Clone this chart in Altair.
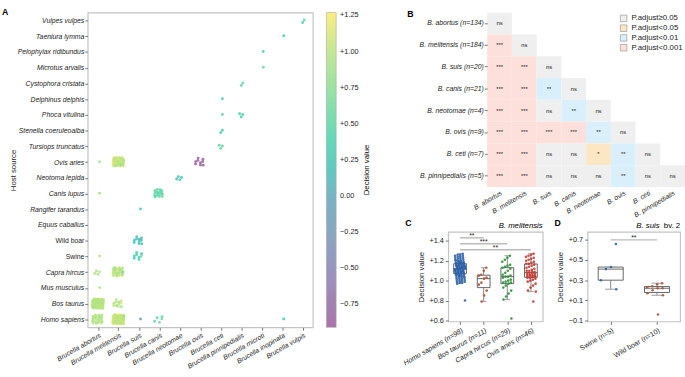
import json
import altair as alt
import numpy as np
import pandas as pd

FONT = "Liberation Sans"

# ---------------- Panel A data ----------------
hosts = ["Homo sapiens", "Bos taurus", "Mus musculus", "Capra hircus", "Swine", "Wild boar",
         "Equus caballus", "Rangifer tarandus", "Canis lupus", "Neotoma lepida", "Ovis aries",
         "Tursiops truncatus", "Stenella coeruleoalba", "Phoca vitulina", "Delphinus delphis",
         "Cystophora cristata", "Microtus arvalis", "Pelophylax ridibundus", "Taeniura lymma",
         "Vulpes vulpes"]
species_a = ["Brucella abortus", "Brucella melitensis", "Brucella suis", "Brucella canis",
             "Brucella neotomae", "Brucella ovis", "Brucella ceti", "Brucella pinnipedialis",
             "Brucella microti", "Brucella inopinata", "Brucella vulpis"]

# B. melitensis decision values per host (also panel C)
mel_homo = [1.27, 1.26, 1.26, 1.25, 1.25, 1.24, 1.24, 1.23, 1.23, 1.22,
            1.22, 1.21, 1.21, 1.20, 1.20, 1.20, 1.19, 1.19, 1.19, 1.18,
            1.18, 1.18, 1.18, 1.17, 1.17, 1.17, 1.17, 1.16, 1.16, 1.16,
            1.16, 1.15, 1.15, 1.15, 1.15, 1.15, 1.14, 1.14, 1.14, 1.14,
            1.14, 1.13, 1.13, 1.13, 1.13, 1.13, 1.13, 1.12, 1.12, 1.12,
            1.12, 1.12, 1.11, 1.11, 1.11, 1.11, 1.11, 1.10, 1.10, 1.10,
            1.10, 1.10, 1.09, 1.09, 1.09, 1.09, 1.08, 1.08, 1.08, 1.08,
            1.08, 1.07, 1.07, 1.07, 1.07, 1.06, 1.06, 1.06, 1.05, 1.05,
            1.05, 1.04, 1.04, 1.04, 1.03, 1.03, 1.02, 1.02, 1.01, 1.01,
            1.00, 1.00, 0.99, 0.99, 0.98, 0.98, 0.97, 0.80]
mel_bos = [1.13, 1.10, 1.06, 1.05, 1.03, 1.02, 0.98, 0.96, 0.90, 0.85, 0.79]
mel_capra = [1.25, 1.23, 1.21, 1.19, 1.16, 1.15, 1.14, 1.13, 1.12, 1.10,
             1.08, 1.06, 1.05, 1.04, 1.04, 1.03, 1.01, 1.00, 0.99, 0.98,
             0.98, 0.97, 0.95, 0.93, 0.90, 0.87, 0.84, 0.81, 0.62]
mel_ovis = [1.27, 1.26, 1.25, 1.24, 1.23, 1.22, 1.21, 1.20, 1.19, 1.18,
            1.17, 1.17, 1.16, 1.15, 1.14, 1.13, 1.12, 1.11, 1.10, 1.10,
            1.09, 1.09, 1.08, 1.08, 1.07, 1.07, 1.06, 1.06, 1.05, 1.05,
            1.05, 1.04, 1.04, 1.04, 1.03, 1.03, 1.02, 1.01, 1.00, 0.99,
            0.97, 0.95, 0.93, 0.90, 0.89, 0.79]
# B. suis bv. 2 (also panel D)
suis_swine = [0.66, 0.43, 0.41, 0.30, 0.21]
suis_boar = [0.27, 0.26, 0.24, 0.23, 0.22, 0.22, 0.20, 0.17, 0.15, -0.04]

ab_bos = [1.08, 1.07, 1.07, 1.06, 1.06, 1.06, 1.05, 1.05, 1.05, 1.05,
          1.04, 1.04, 1.04, 1.04, 1.04, 1.03, 1.03, 1.03, 1.03, 1.03,
          1.03, 1.02, 1.02, 1.02, 1.02, 1.02, 1.02, 1.02, 1.01, 1.01,
          1.01, 1.01, 1.01, 1.01, 1.01, 1.00, 1.00, 1.00, 1.00, 1.00,
          1.00, 1.00, 1.00, 0.99, 0.99, 0.99, 0.99, 0.99, 0.99, 0.99,
          0.99, 0.98, 0.98, 0.98, 0.98, 0.98, 0.98, 0.98, 0.97, 0.97,
          0.97, 0.97, 0.97, 0.97, 0.96, 0.96, 0.96, 0.96, 0.96, 0.95,
          0.95, 0.95, 0.95, 0.94, 0.94, 0.94, 0.93, 0.93, 0.92, 0.92,
          1.00, 1.01, 0.99, 1.02, 0.98, 1.03, 0.97, 1.00, 1.01, 0.99,
          1.02, 0.98, 1.00, 0.97, 1.04, 0.96, 1.00, 0.99, 1.01, 0.98]
ab_homo = [1.06, 1.04, 1.03, 1.02, 1.02, 1.01, 1.01, 1.00, 1.00, 1.00,
           0.99, 0.99, 0.99, 0.98, 0.98, 0.98, 0.97, 0.97, 0.96, 0.96,
           0.95, 0.95, 0.94, 0.93, 0.92, 0.90]

clusters = [
    ("Brucella abortus", "Bos taurus", ab_bos),
    ("Brucella abortus", "Homo sapiens", ab_homo),
    ("Brucella abortus", "Capra hircus", [1.02, 0.99, 0.97, 0.95]),
    ("Brucella abortus", "Ovis aries", [0.93]),
    ("Brucella abortus", "Canis lupus", [0.92]),
    ("Brucella abortus", "Mus musculus", [0.94]),
    ("Brucella abortus", "Swine", [0.93]),
    ("Brucella melitensis", "Homo sapiens", mel_homo),
    ("Brucella melitensis", "Bos taurus", mel_bos),
    ("Brucella melitensis", "Capra hircus", mel_capra),
    ("Brucella melitensis", "Ovis aries", mel_ovis),
    ("Brucella suis", "Swine", suis_swine + [0.35, 0.38, 0.42]),
    ("Brucella suis", "Wild boar", suis_boar),
    ("Brucella suis", "Rangifer tarandus", [0.30]),
    ("Brucella suis", "Homo sapiens", [-0.35]),
    ("Brucella canis", "Canis lupus", [0.62, 0.60, 0.58, 0.57, 0.56, 0.55, 0.54, 0.53,
                                       0.52, 0.51, 0.50, 0.49, 0.48, 0.46, 0.44, 0.40]),
    ("Brucella canis", "Homo sapiens", [0.62, 0.58, 0.55, 0.52, 0.48]),
    ("Brucella neotomae", "Neotoma lepida", [0.22, 0.20, 0.18, 0.16]),
    ("Brucella ovis", "Ovis aries", [-0.80, -0.83, -0.85, -0.86, -0.87, -0.88, -0.89, -0.90, -0.91]),
    ("Brucella ceti", "Delphinus delphis", [0.35]),
    ("Brucella ceti", "Phoca vitulina", [0.45]),
    ("Brucella ceti", "Stenella coeruleoalba", [0.38, 0.33]),
    ("Brucella ceti", "Tursiops truncatus", [0.55, 0.52, 0.50]),
    ("Brucella pinnipedialis", "Cystophora cristata", [0.55, 0.52]),
    ("Brucella pinnipedialis", "Phoca vitulina", [0.40, 0.36, 0.33]),
    ("Brucella microti", "Pelophylax ridibundus", [0.40]),
    ("Brucella microti", "Microtus arvalis", [0.55]),
    ("Brucella inopinata", "Taeniura lymma", [0.35]),
    ("Brucella inopinata", "Homo sapiens", [0.30]),
    ("Brucella vulpis", "Vulpes vulpes", [0.45, 0.42]),
]

# colour bar
cb_domain = [-0.91, -0.5, 0.0, 0.3, 0.75, 1.0, 1.27]
cb_colors = ["#9b5b9b", "#8885b5", "#60a8b9", "#37ceb5", "#8ade93", "#b8e482", "#fde96b"]
cb_ticks = [-0.75, -0.5, -0.25, 0.0, 0.25, 0.5, 0.75, 1.0, 1.25]

# ---------------- Panel B data ----------------
b_species = ["B. abortus", "B. melitensis", "B. suis", "B. canis", "B. neotomae",
             "B. ovis", "B. ceti", "B. pinnipedialis"]
b_n = [134, 184, 20, 21, 4, 9, 7, 5]
b_sig = [["ns"],
         ["***", "ns"],
         ["***", "***", "ns"],
         ["***", "***", "**", "ns"],
         ["***", "***", "ns", "**", "ns"],
         ["***", "***", "***", "***", "**", "ns"],
         ["***", "***", "ns", "ns", "*", "**", "ns"],
         ["***", "***", "ns", "ns", "ns", "**", "ns", "ns"]]
p_cats = ["P.adjust\u22650.05", "P.adjust<0.05", "P.adjust<0.01", "P.adjust<0.001"]
p_marks = ["ns", "*", "**", "***"]
p_colors = ["#efefef", "#fde6c4", "#d9effb", "#fde0db"]

# ---------------- Panel C / D data ----------------
c_groups = ["Homo sapiens (n=98)", "Bos taurus (n=11)", "Capra hircus (n=29)", "Ovis aries (n=46)"]
c_values = [mel_homo, mel_bos, mel_capra, mel_ovis]
c_colors = ["#2e63a6", "#a9553a", "#2f8f3c", "#c23b33"]
c_sig = [(0, 1, 1.43, "**"), (0, 2, 1.37, "***"), (0, 3, 1.31, "**")]

d_groups = ["Swine (n=5)", "Wild boar (n=10)"]
d_values = [suis_swine, suis_boar]
d_colors = ["#2e63a6", "#a9553a"]
d_sig = [(0, 1, 0.70, "**")]

A1, A2 = 0.7548776662, 0.5698402910


def frac_jit(k, a):
    return ((k * a) % 1.0) - 0.5


def label_chart(txt, x, y, **kw):
    return alt.Chart(pd.DataFrame({"t": [txt]})).mark_text(**kw).encode(
        text="t:N", x=alt.value(x), y=alt.value(y))


# ---------------- Build Panel A ----------------
rows = []
for sp, host, vals in clusters:
    n = len(vals)
    wx, wy = (0.28, 0.30) if n >= 20 else ((0.24, 0.26) if n >= 5 else (0.16, 0.18))
    for k, v in enumerate(vals, start=1):
        rows.append({"xj": species_a.index(sp) + 2 * wx * frac_jit(k, A1),
                     "yj": hosts.index(host) + 2 * wy * frac_jit(k, A2),
                     "val": v})
df_a = pd.DataFrame(rows)

A_W, A_H = 231, 323
pm_expr = "datum.value > 0.001 ? '+' + format(datum.value, '.2f') : format(datum.value, '.2f')"

pts_a = alt.Chart(df_a).mark_circle(size=9, opacity=0.85).encode(
    x=alt.X("xj:Q", scale=alt.Scale(domain=[-0.5, 10.5], nice=False, zero=False),
            axis=alt.Axis(values=list(range(11)), labelExpr=json.dumps(species_a) + "[datum.value]",
                          labelAngle=-30, labelAlign="right", labelBaseline="top",
                          labelFontStyle="italic", labelFontSize=7, title=None, grid=False,
                          domain=False, tickSize=3, labelPadding=1, labelOverlap=False,
                          labelBound=False)),
    y=alt.Y("yj:Q", scale=alt.Scale(domain=[-0.5, 19.5], nice=False, zero=False),
            axis=alt.Axis(values=list(range(20)), labelExpr=json.dumps(hosts) + "[datum.value]",
                          labelFontStyle={"condition": {"test": "datum.value == 4 || datum.value == 5",
                                                        "value": "normal"}, "value": "italic"},
                          labelFontSize=7, title="Host source", titleFontSize=8,
                          titleFontWeight="normal", grid=False, domain=False, tickSize=3,
                          labelPadding=1, titlePadding=0, labelOverlap=False)),
    color=alt.Color("val:Q",
                    scale=alt.Scale(domain=cb_domain, range=cb_colors, interpolate="rgb"),
                    legend=alt.Legend(title=None,
                                      gradientLength=A_H, gradientThickness=10,
                                      values=cb_ticks, labelExpr=pm_expr, offset=14,
                                      labelFontSize=7.5, labelOverlap=False,
                                      gradientStrokeColor="#999", gradientStrokeWidth=0.6,
                                      labelOffset=4, padding=0)),
)
letter_a = label_chart("A", -88, -5, fontWeight="bold", fontSize=9, align="left", baseline="top")
cb_title = label_chart("Decision value", A_W + 56, A_H / 2, angle=270, fontSize=8,
                       align="center", baseline="middle")
chart_a = alt.layer(pts_a, letter_a, cb_title).properties(width=A_W, height=A_H)

# ---------------- Build Panel B ----------------
B_GAP, B_CELLS_W = 40, 203
row_labels = [f"{s} (n={n})" for s, n in zip(b_species, b_n)]
brows = []
for i, sigs in enumerate(b_sig):
    for j, s in enumerate(sigs):
        brows.append({"row": row_labels[i], "col": b_species[j], "sig": s,
                      "cat": p_cats[p_marks.index(s)]})
df_b = pd.DataFrame(brows)

bx = alt.X("col:N", sort=b_species,
           scale=alt.Scale(paddingInner=0, paddingOuter=0, range=[B_GAP, B_GAP + B_CELLS_W]),
           axis=alt.Axis(title=None, labelAngle=-30, labelFontStyle="italic", labelFontSize=7,
                         domain=False, ticks=False, labelPadding=2))
by = alt.Y("row:N", sort=row_labels, scale=alt.Scale(paddingInner=0, paddingOuter=0),
           axis=alt.Axis(title=None, labelFontStyle="italic", labelFontSize=7, domain=False,
                         tickSize=3, labelPadding=1, offset=-B_GAP))
rect_b = alt.Chart(df_b).mark_rect().encode(
    x=bx, y=by,
    color=alt.Color("cat:N", scale=alt.Scale(domain=p_cats, range=p_colors),
                    legend=alt.Legend(title=None, orient="top-right", symbolType="square",
                                      symbolSize=45, symbolStrokeColor="#999",
                                      symbolStrokeWidth=0.7, labelFontSize=8, rowPadding=0,
                                      offset=2, padding=0)))
text_b = alt.Chart(df_b).mark_text(fontSize=6, color="#222").encode(x=bx, y=by, text="sig:N")
letter_b = label_chart("B", -42, -2, fontWeight="bold", fontSize=9, align="left", baseline="top")
chart_b = alt.layer(rect_b, text_b, letter_b).properties(
    width=B_GAP + B_CELLS_W, height=179, view=alt.ViewBackground(strokeWidth=0))


# ---------------- Box panels ----------------
def box_panel(groups, values, colors, sigs, ydom, yticks, ylabfmt, italic, width, height,
              letter, letter_dx, title_parts, reserve_dx):
    pts, stats = [], []
    for i, (g, vals) in enumerate(zip(groups, values)):
        arr = np.array(vals)
        q1, med, q3 = np.percentile(arr, [25, 50, 75])
        iqr = q3 - q1
        lo = arr[arr >= q1 - 1.5 * iqr].min()
        hi = arr[arr <= q3 + 1.5 * iqr].max()
        stats.append({"idx": i, "q1": q1, "med": med, "q3": q3, "lo": lo, "hi": hi})
        for k, v in enumerate(vals, start=1):
            pts.append({"grp": g, "xj": i + 0.44 * frac_jit(k, A1), "val": v})
    df_p, df_s = pd.DataFrame(pts), pd.DataFrame(stats)
    df_sig = pd.DataFrame([{"a": a, "b": b, "y": y, "lab": l, "mid": (a + b) / 2} for a, b, y, l in sigs])

    n = len(groups)
    xsc = alt.Scale(domain=[-0.5, n - 0.5], nice=False, zero=False)
    ysc = alt.Scale(domain=ydom, nice=False, zero=False)
    xax = alt.Axis(values=list(range(n)), labelExpr=json.dumps(groups) + "[datum.value]",
                   labelAngle=-30, labelAlign="right", labelBaseline="top",
                   labelFontStyle="italic" if italic else "normal", labelFontSize=7.2,
                   title=None, grid=False, domain=False, tickSize=3, labelPadding=2,
                   labelOverlap=False, labelBound=False)
    yax = alt.Axis(values=yticks, labelExpr=ylabfmt, labelFontSize=7.5, title="Decision value",
                   titleFontSize=8, titleFontWeight="normal", grid=False, domain=False,
                   tickSize=3, titlePadding=4, labelPadding=2)

    def X(f):
        return alt.X(f, type="quantitative", scale=xsc, axis=xax)

    def Y(f):
        return alt.Y(f, type="quantitative", scale=ysc, axis=yax)

    base = alt.Chart(df_s).transform_calculate(
        x0="datum.idx - 0.27", x1="datum.idx + 0.27",
        c0="datum.idx - 0.12", c1="datum.idx + 0.12")
    box = base.mark_bar(fill="white", stroke="#555", strokeWidth=0.9).encode(
        x=X("x0"), x2="x1:Q", y=Y("q1"), y2="q3:Q")
    w_lo = base.mark_rule(color="#777", strokeWidth=0.9).encode(x=X("idx"), y=Y("lo"), y2="q1:Q")
    w_hi = base.mark_rule(color="#777", strokeWidth=0.9).encode(x=X("idx"), y=Y("q3"), y2="hi:Q")
    cap_lo = base.mark_rule(color="#aaa", strokeWidth=1.2).encode(x=X("c0"), x2="c1:Q", y=Y("lo"))
    cap_hi = base.mark_rule(color="#aaa", strokeWidth=1.2).encode(x=X("c0"), x2="c1:Q", y=Y("hi"))
    med = base.mark_rule(color="#555", strokeWidth=0.9).encode(x=X("x0"), x2="x1:Q", y=Y("med"))
    dots = alt.Chart(df_p).mark_circle(size=7, opacity=0.9).encode(
        x=X("xj"), y=Y("val"),
        color=alt.Color("grp:N", scale=alt.Scale(domain=groups, range=colors), legend=None))
    sig_r = alt.Chart(df_sig).mark_rule(color="#bbb", strokeWidth=1.5).encode(
        x=X("a"), x2="b:Q", y=Y("y"))
    sig_t = alt.Chart(df_sig).mark_text(fontSize=7, baseline="bottom", dy=1, color="#222").encode(
        x=X("mid"), y=Y("y"), text="lab:N")
    layers = [box, w_lo, w_hi, cap_lo, cap_hi, med, dots, sig_r, sig_t]
    layers.append(label_chart(letter, letter_dx, -13, fontWeight="bold", fontSize=9,
                              align="left", baseline="top"))
    # transparent copy of the letter that reserves room on the left of the panel
    layers.append(label_chart(letter, reserve_dx, -13, fontWeight="bold", fontSize=9,
                              align="left", baseline="top", opacity=0))
    for txt, style, dx in title_parts:
        layers.append(label_chart(txt, width - dx, -2, fontSize=8, fontStyle=style,
                                  align="right", baseline="bottom"))
    return alt.layer(*layers).properties(width=width, height=height)


fmt1 = "datum.value > 0.001 ? '+' + format(datum.value, '.1f') : format(datum.value, '.1f')"
chart_c = box_panel(c_groups, c_values, c_colors, c_sig, [0.59, 1.49], [0.6, 0.8, 1.0, 1.2, 1.4],
                    fmt1, True, 97, 92, "C", -44, [("B. melitensis", "italic", 0)], -74)
chart_d = box_panel(d_groups, d_values, d_colors, d_sig, [-0.11, 0.78], [-0.1, 0.1, 0.3, 0.5, 0.7],
                    fmt1, False, 95, 92, "D", -34,
                    [("bv. 2", "normal", 0), ("B. suis", "italic", 21)], -34)

bottom = alt.concat(chart_c, chart_d, columns=2, align="none", spacing=10).resolve_scale(
    color="independent")
right = alt.concat(chart_b, bottom, columns=1, align="none", spacing=0).resolve_scale(
    color="independent")
chart = alt.concat(chart_a, right, columns=2, align="none", spacing=3).resolve_scale(
    color="independent").properties(
    padding={"left": 1, "top": 2, "right": 0, "bottom": 0}
).configure(font=FONT).configure_view(stroke="#c4c4c4", strokeWidth=1.2).configure_axis(
    labelFont=FONT, titleFont=FONT, tickColor="#777", labelColor="#222", titleColor="#222"
).configure_legend(labelFont=FONT, titleFont=FONT, labelColor="#222", titleColor="#222")

chart.save("out.html", embed_options={"renderer": "svg", "actions": False})
